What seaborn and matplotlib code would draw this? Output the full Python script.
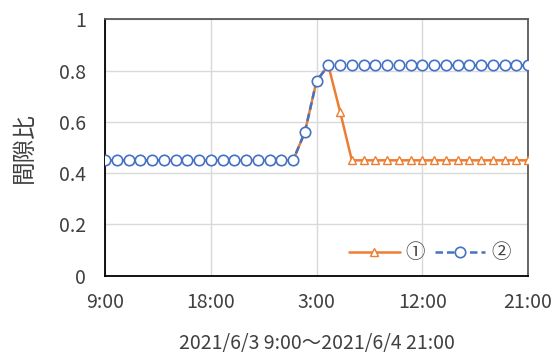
import matplotlib
matplotlib.use("Agg")
import matplotlib.pyplot as plt
import pandas as pd
import seaborn as sns

# Hourly readings, 2021/6/3 9:00 through 2021/6/4 21:00
times = pd.date_range("2021-06-03 09:00", "2021-06-04 21:00", freq="h")

void_ratio_1 = [0.45, 0.45, 0.45, 0.45, 0.45, 0.45, 0.45, 0.45, 0.45, 0.45,
                0.45, 0.45, 0.45, 0.45, 0.45, 0.45, 0.45, 0.56, 0.76, 0.82,
                0.64, 0.45, 0.45, 0.45, 0.45, 0.45, 0.45, 0.45, 0.45, 0.45,
                0.45, 0.45, 0.45, 0.45, 0.45, 0.45, 0.45]
void_ratio_2 = [0.45, 0.45, 0.45, 0.45, 0.45, 0.45, 0.45, 0.45, 0.45, 0.45,
                0.45, 0.45, 0.45, 0.45, 0.45, 0.45, 0.45, 0.56, 0.76, 0.82,
                0.82, 0.82, 0.82, 0.82, 0.82, 0.82, 0.82, 0.82, 0.82, 0.82,
                0.82, 0.82, 0.82, 0.82, 0.82, 0.82, 0.82]
series_labels = ["①", "②"]
y_ticks = [0, 0.2, 0.4, 0.6, 0.8, 1]
x_label = "2021/6/3 9:00～2021/6/4 21:00"
y_label = "間隙比"

df = pd.DataFrame({"time": times, "s1": void_ratio_1, "s2": void_ratio_2})

sns.set_theme(style="white")
plt.rcParams["font.family"] = ["Noto Sans CJK JP", "DejaVu Sans"]

fig = plt.figure(figsize=(5.53, 3.55), dpi=100)
ax = fig.add_axes([0.190, 0.2234, 0.765, 0.7222])

orange = "#ED7D31"
blue = "#4472C4"

sns.lineplot(data=df, x="time", y="s1", ax=ax, color=orange, linewidth=1.8,
             marker="^", markersize=6, markerfacecolor="white",
             markeredgecolor=orange, markeredgewidth=1.0,
             label=series_labels[0], zorder=3)
sns.lineplot(data=df, x="time", y="s2", ax=ax, color=blue, linewidth=1.8,
             marker="o", markersize=7.5,
             markerfacecolor="white", markeredgecolor=blue,
             markeredgewidth=1.2, label=series_labels[1], zorder=4)
ax.lines[-1].set_linestyle((0, (3, 1.6)))

ax.set_xlim(times[0], times[-1])
ax.set_ylim(0, 1)
ax.set_yticks(y_ticks)
ax.set_yticklabels([f"{v:g}" for v in y_ticks])
tick_times = times[::9]
ax.set_xticks(tick_times)
ax.set_xticklabels([f"{t.hour}:{t.minute:02d}" for t in tick_times])

ax.grid(True, color="#D9D9D9", linewidth=1.0, zorder=0)
ax.set_axisbelow(True)

for side in ["top", "right"]:
    ax.spines[side].set_color("#595959")
    ax.spines[side].set_linewidth(1.3)
for side in ["left", "bottom"]:
    ax.spines[side].set_color("#000000")
    ax.spines[side].set_linewidth(1.3)

ax.tick_params(axis="both", direction="in", length=5, width=1.0, color="#000000",
               labelsize=14, labelcolor="#404040")
ax.tick_params(axis="y", pad=14)
ax.tick_params(axis="x", pad=12)

ax.set_xlabel(x_label, fontsize=14, color="#404040", labelpad=14)
ax.set_ylabel(y_label, fontsize=17, color="#404040", labelpad=16)

leg = ax.legend(loc="lower right", frameon=False, fontsize=14, ncol=2,
                handlelength=2.6, columnspacing=0.5, handletextpad=0.3,
                bbox_to_anchor=(1.0, -0.02))
for t in leg.get_texts():
    t.set_color("#404040")

fig.savefig("out.png", dpi=100, facecolor="white")
